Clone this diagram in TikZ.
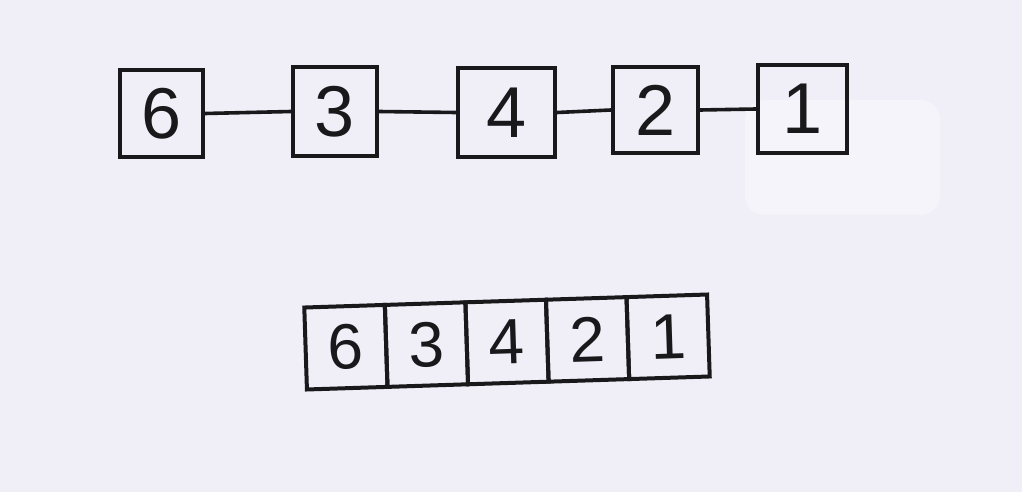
\documentclass[tikz,border=0pt]{standalone}
\usepackage{fontspec}
\setmainfont{Liberation Sans}
\definecolor{board}{RGB}{240,239,248}
\definecolor{ink}{RGB}{25,25,28}
\begin{document}
\begin{tikzpicture}[x=0.5pt,y=-0.5pt,
  listbox/.style={draw=ink,line width=2pt,inner sep=0pt,text=ink,font=\fontsize{36}{38}\selectfont},
  cell/.style={draw=ink,line width=2pt,inner sep=0pt,minimum width=40.3pt,minimum height=41pt,text=ink,font=\fontsize{32}{34}\selectfont},
  link/.style={draw=ink,line width=1.8pt}]
\fill[board] (0,0) rectangle (1022,492);
\fill[white,opacity=0.35,rounded corners=10pt] (745,100) rectangle (940,215);
% linked list
\node[listbox,minimum width=41.5pt,minimum height=43.5pt] (n6) at (161.5,113.5) {6};
\node[listbox,minimum width=42pt,minimum height=44.5pt] (n3) at (335,111.5) {3};
\node[listbox,minimum width=48.5pt,minimum height=44.5pt] (n4) at (506.5,112.5) {4};
\node[listbox,minimum width=42.5pt,minimum height=43pt] (n2) at (655.5,110) {2};
\node[listbox,minimum width=44.5pt,minimum height=44pt] (n1) at (802.5,109) {1};
\draw[link] (n6.east) -- (n3.west);
\draw[link] (n3.east) -- (n4.west);
\draw[link] (n4.east) -- (n2.west);
\draw[link] (n2.east) -- (n1.west);
% array
\begin{scope}[shift={(507,342)},rotate=1.85,transform shape]
\node[cell] (a6) at (-161.2,0) {6};
\node[cell] (a3) at (-80.6,0) {3};
\node[cell] (a4) at (0,0) {4};
\node[cell] (a2) at (80.6,0) {2};
\node[cell] (a1) at (161.2,0) {1};
\end{scope}
\end{tikzpicture}
\end{document}
